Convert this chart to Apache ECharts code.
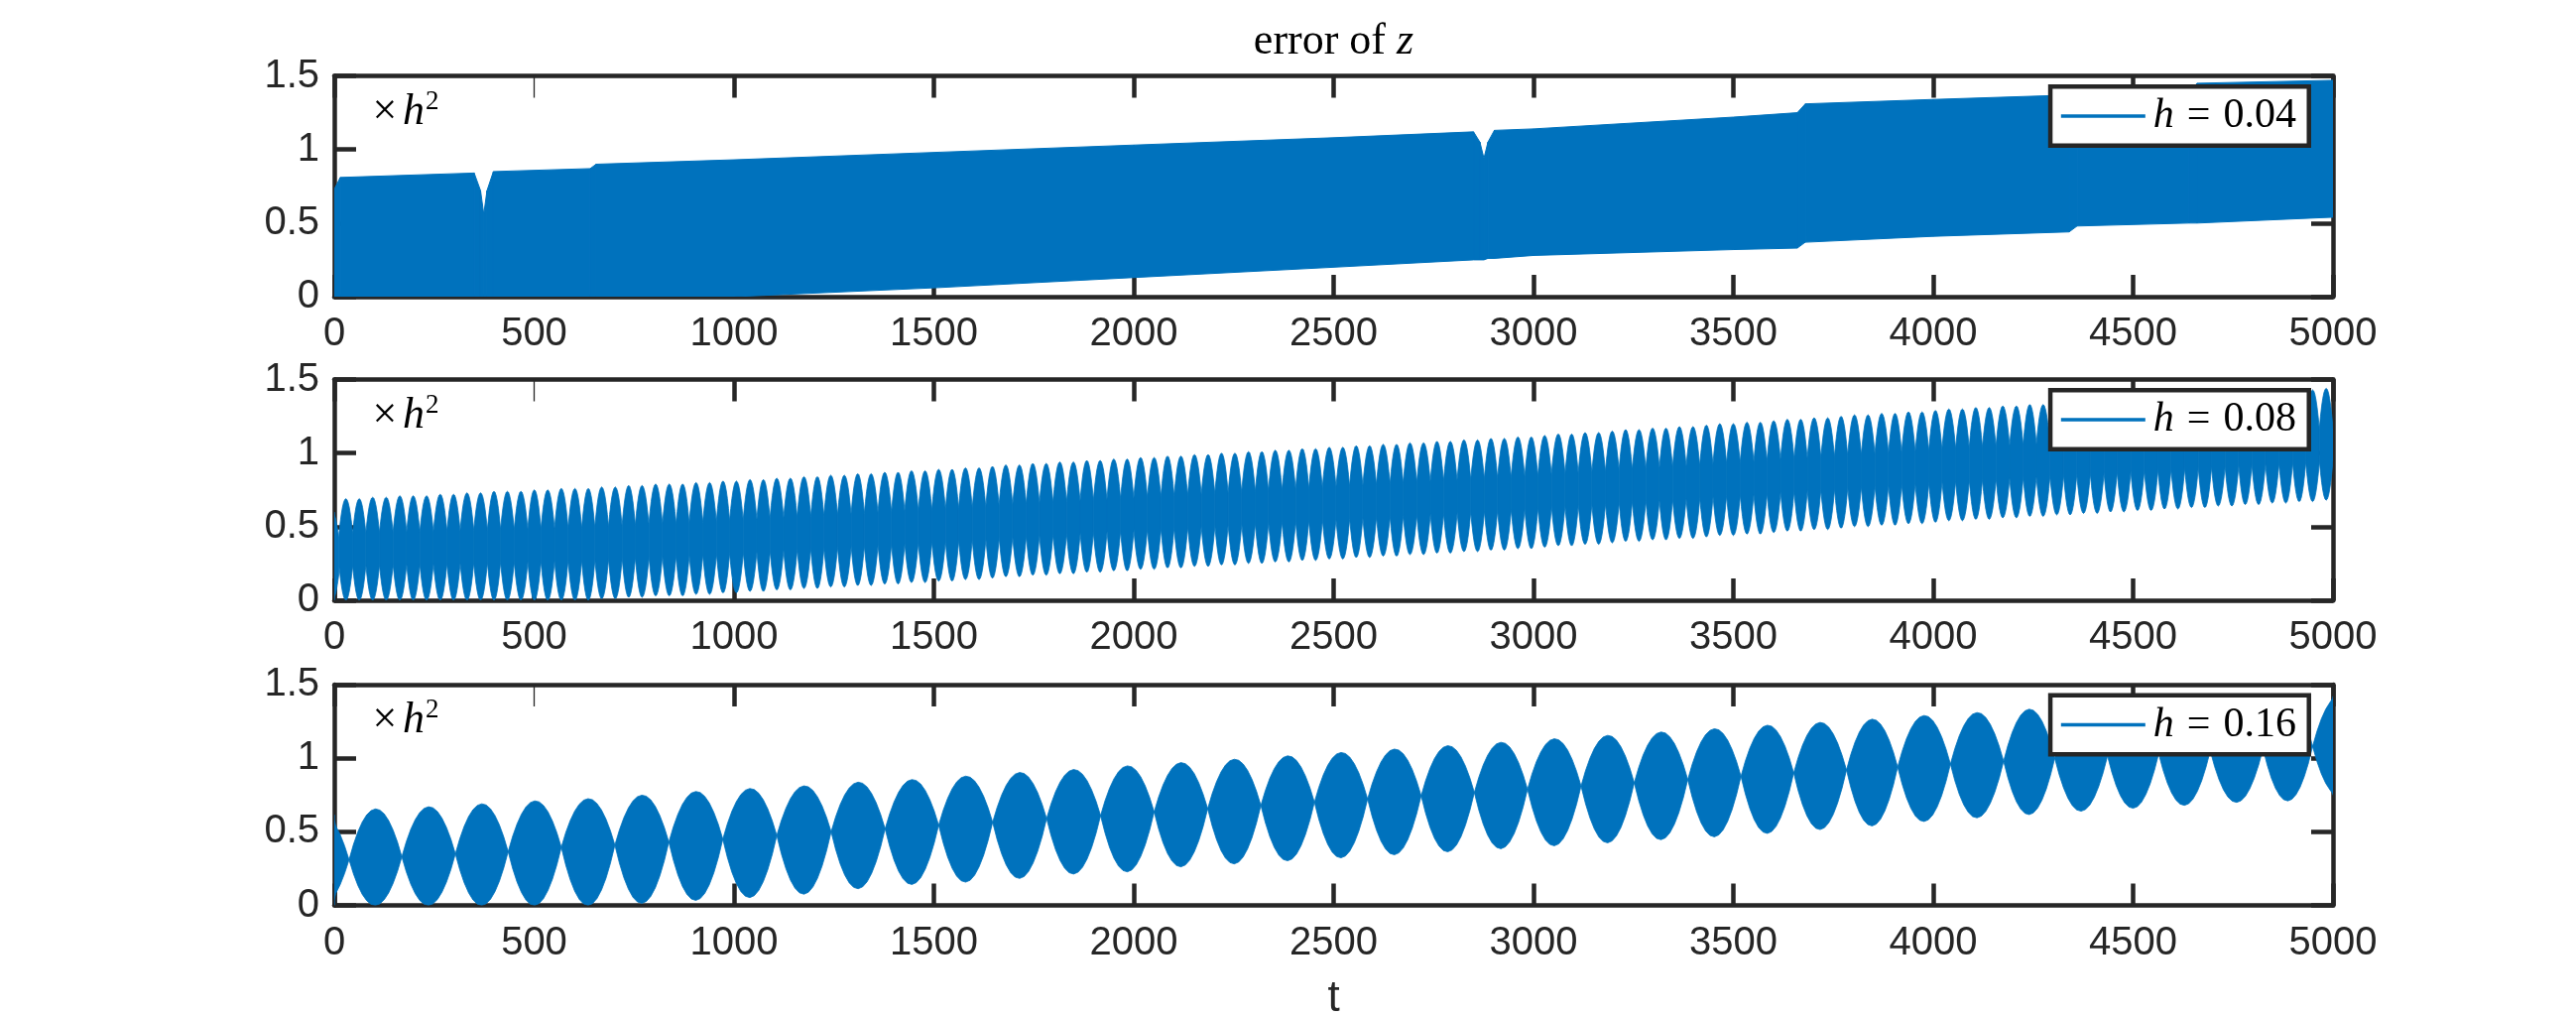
<!DOCTYPE html>
<html>
<head>
<meta charset="utf-8">
<script src="https://cdn.jsdelivr.net/npm/echarts@6/dist/echarts.min.js"></script>
<style>
html,body{margin:0;padding:0;background:#fff;}
#c{width:2597px;height:1025px;}
</style>
</head>
<body>
<div id="c"></div>
<script>
// ---------------- data ----------------
const titleText = 'error of ';
const titleVar = 'z';
const xLabelText = 't';
const legendNames = ['h = 0.04', 'h = 0.08', 'h = 0.16'];
const xMin = 0, xMax = 5000, xStep = 500;
const yMin = 0, yMax = 1.5, yStep = 0.5;
const topThickTicks = [0, 1000, 1500, 2000, 2500, 3000, 3500, 4000, 4500, 5000];
const topThinTicks = [500];

// panel 1 (h = 0.04): dense band, upper / lower envelope
const t1 = [0, 15, 350, 366, 374, 382, 398, 640, 655, 1000, 1500, 2000, 2500, 2850, 2866, 2876, 2886, 2902, 3000, 3500, 3660, 3680, 4000, 4340, 4360, 4640, 4660, 5000];
const up1 = [0.73, 0.81, 0.84, 0.72, 0.56, 0.72, 0.85, 0.87, 0.90, 0.93, 0.98, 1.03, 1.08, 1.12, 1.05, 0.94, 1.05, 1.13, 1.14, 1.22, 1.25, 1.31, 1.34, 1.37, 1.37, 1.39, 1.45, 1.47];
const lo1 = [0, 0, 0, 0, 0, 0, 0, 0, 0, 0, 0.06, 0.13, 0.20, 0.25, 0.25, 0.25, 0.26, 0.26, 0.28, 0.32, 0.33, 0.37, 0.41, 0.44, 0.48, 0.50, 0.50, 0.54];

// panel 2 (h = 0.08): beats – node times, beat maxima, beat minima
const nodes2 = [-22, 12, 46, 79, 113, 147, 181, 214, 248, 282, 315, 349, 383, 416, 450, 484, 517, 551, 585, 619, 652, 686, 720, 753, 787, 821, 855, 888, 922, 956, 989, 1023, 1057, 1090, 1124, 1158, 1192, 1225, 1259, 1293, 1326, 1360, 1394, 1427, 1461, 1495, 1529, 1562, 1596, 1630, 1663, 1697, 1731, 1764, 1798, 1832, 1866, 1899, 1933, 1967, 2000, 2034, 2068, 2101, 2135, 2169, 2203, 2236, 2270, 2304, 2337, 2371, 2405, 2438, 2472, 2506, 2540, 2573, 2607, 2641, 2674, 2708, 2742, 2775, 2809, 2843, 2877, 2910, 2944, 2978, 3011, 3045, 3079, 3112, 3146, 3180, 3214, 3247, 3281, 3315, 3348, 3382, 3416, 3449, 3483, 3517, 3551, 3584, 3618, 3652, 3685, 3719, 3753, 3786, 3820, 3854, 3888, 3921, 3955, 3989, 4022, 4056, 4090, 4123, 4157, 4191, 4225, 4258, 4292, 4326, 4359, 4393, 4427, 4460, 4494, 4528, 4562, 4595, 4629, 4663, 4696, 4730, 4764, 4797, 4831, 4865, 4899, 4932, 4966, 5000];
const tops2 = [0.60,
 0.69,0.69,0.70,0.70,0.71,0.71,0.71,0.72,0.72,0.73,
 0.73,0.74,0.74,0.74,0.75,0.75,0.76,0.76,0.76,0.77,
 0.77,0.78,0.78,0.79,0.79,0.79,0.80,0.80,0.81,0.81,
 0.82,0.82,0.83,0.83,0.84,0.84,0.85,0.85,0.86,0.86,
 0.87,0.87,0.88,0.88,0.89,0.89,0.90,0.90,0.91,0.92,
 0.92,0.93,0.93,0.94,0.94,0.95,0.95,0.96,0.96,0.97,
 0.97,0.98,0.98,0.99,0.99,1.00,1.00,1.01,1.01,1.02,
 1.02,1.03,1.03,1.04,1.04,1.05,1.05,1.06,1.06,1.07,
 1.07,1.08,1.08,1.09,1.09,1.10,1.10,1.11,1.11,1.12,
 1.13,1.13,1.14,1.14,1.15,1.16,1.16,1.17,1.17,1.18,
 1.18,1.19,1.20,1.20,1.21,1.21,1.22,1.23,1.23,1.24,
 1.24,1.25,1.26,1.26,1.27,1.27,1.28,1.28,1.29,1.30,
 1.30,1.31,1.31,1.32,1.32,1.33,1.33,1.34,1.34,1.35,
 1.35,1.36,1.36,1.37,1.37,1.38,1.38,1.39,1.39,1.40,
 1.40,1.41,1.41,1.42,1.42,1.43,1.43,1.44];
const bots2 = [0,
 0,0,0,0,0,0,0,0,0,0,
 0,0,0,0,0,0,0,0,0.00,0.01,
 0.01,0.02,0.02,0.03,0.03,0.03,0.04,0.04,0.05,0.05,
 0.06,0.06,0.07,0.07,0.08,0.08,0.09,0.09,0.10,0.10,
 0.11,0.11,0.12,0.12,0.13,0.13,0.14,0.14,0.15,0.16,
 0.16,0.17,0.17,0.18,0.18,0.19,0.19,0.20,0.20,0.21,
 0.21,0.22,0.22,0.23,0.23,0.24,0.24,0.25,0.25,0.26,
 0.26,0.27,0.27,0.28,0.28,0.29,0.29,0.30,0.30,0.31,
 0.31,0.32,0.32,0.33,0.33,0.34,0.34,0.35,0.35,0.36,
 0.37,0.37,0.38,0.38,0.39,0.40,0.40,0.41,0.41,0.42,
 0.42,0.43,0.44,0.44,0.45,0.45,0.46,0.47,0.47,0.48,
 0.48,0.49,0.50,0.50,0.51,0.51,0.52,0.52,0.53,0.54,
 0.54,0.55,0.55,0.56,0.56,0.57,0.57,0.58,0.58,0.59,
 0.59,0.60,0.60,0.61,0.61,0.62,0.62,0.63,0.63,0.64,
 0.64,0.65,0.65,0.66,0.66,0.67,0.67,0.68];
const core2 = 0.11; // half width of the band that stays filled between beats

// panel 3 (h = 0.16): lobes – node times, node values, lobe maxima, lobe minima
const nodes3 = [-97, 37, 169, 303, 435, 568, 702, 837, 972, 1107, 1243, 1378, 1512, 1647, 1782, 1917, 2051, 2185, 2318, 2452, 2585, 2719, 2852, 2985, 3119, 3252, 3386, 3519, 3651, 3783, 3911, 4043, 4176, 4304, 4436, 4564, 4693, 4825, 4949, 5080];
const nodeV3 = [0.29, 0.31, 0.33, 0.35, 0.365, 0.395, 0.41, 0.43, 0.45, 0.475, 0.50, 0.52, 0.545, 0.565, 0.59, 0.61, 0.635, 0.657, 0.679, 0.701, 0.723, 0.745, 0.767, 0.789, 0.811, 0.833, 0.855, 0.877, 0.90, 0.92, 0.94, 0.96, 0.98, 1.0, 1.015, 1.03, 1.05, 1.065, 1.08, 1.10];
const tops3 = [0.615, 0.655, 0.67, 0.69, 0.71, 0.725, 0.749, 0.774, 0.794, 0.812, 0.837, 0.855, 0.878, 0.903, 0.923, 0.948, 0.97, 0.993, 1.016, 1.039, 1.062, 1.085, 1.108, 1.132, 1.155, 1.178, 1.20, 1.224, 1.243, 1.265, 1.29, 1.31, 1.333, 1.355, 1.375, 1.395, 1.415, 1.43, 1.42];
const bots3 = [0, 0, 0, 0, 0, 0, 0.014, 0.034, 0.053, 0.076, 0.113, 0.142, 0.158, 0.183, 0.213, 0.228, 0.262, 0.282, 0.303, 0.323, 0.344, 0.364, 0.385, 0.405, 0.425, 0.446, 0.466, 0.489, 0.515, 0.54, 0.57, 0.595, 0.617, 0.64, 0.66, 0.68, 0.70, 0.71, 0.75];

// ---------------- layout / style ----------------
const BLUE = '#0072BD', AX = '#262626';
const GL = 337, GW = 2015, PH = 222.5;
const PT = [76.5, 382.5, 690];
const AXW = 4.5, TICKLEN = 22;
const SANS = "'Liberation Sans', Arial, Helvetica, sans-serif";
const SERIF = "'Liberation Serif', 'Times New Roman', serif";

const chart = echarts.init(document.getElementById('c'), null, {renderer: 'canvas'});

// ---------------- tables for the library ----------------
const band1 = [];
for (let i = 0; i < t1.length - 1; i++) {
  band1.push([t1[i], t1[i + 1], up1[i], up1[i + 1], lo1[i], lo1[i + 1]]);
}
const lens2 = [];
for (let i = 0; i < Math.min(nodes2.length - 1, tops2.length, bots2.length); i++) {
  const c = (tops2[i] + bots2[i]) / 2;
  lens2.push([nodes2[i], nodes2[i + 1], c + core2, c + core2, c - core2, c - core2, tops2[i], bots2[i]]);
}
const lens3 = [];
for (let i = 0; i < Math.min(nodes3.length - 1, tops3.length, bots3.length); i++) {
  lens3.push([nodes3[i], nodes3[i + 1], nodeV3[i], nodeV3[i + 1], nodeV3[i], nodeV3[i + 1], tops3[i], bots3[i]]);
}

function clampPt(p, cs) {
  return [Math.max(cs.x, Math.min(cs.x + cs.width, p[0])), Math.max(cs.y, Math.min(cs.y + cs.height, p[1]))];
}

function bandRender(params, api) {
  const cs = params.coordSys;
  const a = api.coord([api.value(0), api.value(2)]);
  const b = api.coord([api.value(1), api.value(3)]);
  const c = api.coord([api.value(1), api.value(5)]);
  const d = api.coord([api.value(0), api.value(4)]);
  return {type: 'polygon', shape: {points: [a, b, c, d].map(p => clampPt(p, cs))},
    style: {fill: BLUE, stroke: BLUE, lineWidth: 1}};
}

function lensRender(params, api) {
  const t0 = api.value(0), t1v = api.value(1);
  const u0 = api.value(2), u1 = api.value(3), l0 = api.value(4), l1 = api.value(5);
  const top = api.value(6), bot = api.value(7);
  const tm = (t0 + t1v) / 2;
  const A = api.coord([t0, u0]), B = api.coord([t1v, u1]), M = api.coord([tm, top]);
  const C = api.coord([t1v, l1]), D = api.coord([t0, l0]), N = api.coord([tm, bot]);
  const cs = params.coordSys;
  const pts = [];
  const STEPS = 12;
  function quad(P0, Pm, P2) {
    const cx = 2 * Pm[0] - (P0[0] + P2[0]) / 2, cy = 2 * Pm[1] - (P0[1] + P2[1]) / 2;
    for (let k = 0; k <= STEPS; k++) {
      const s = k / STEPS, a = (1 - s) * (1 - s), b = 2 * s * (1 - s), c = s * s;
      pts.push(clampPt([a * P0[0] + b * cx + c * P2[0], a * P0[1] + b * cy + c * P2[1]], cs));
    }
  }
  quad(A, M, B);
  quad(C, N, D);
  return {type: 'polygon', shape: {points: pts}, style: {fill: BLUE, stroke: BLUE, lineWidth: 0.8}};
}

const grids = PT.map(t => ({left: GL, top: t, width: GW, height: PH, containLabel: false, outerBoundsMode: 'none'}));

function axisCommon() {
  return {
    axisLine: {show: true, onZero: false, lineStyle: {color: AX, width: AXW}},
    axisTick: {show: true, inside: true, length: TICKLEN, lineStyle: {color: AX, width: AXW}},
    splitLine: {show: false}
  };
}
const xAxes = [], yAxes = [];
PT.forEach((t, g) => {
  xAxes.push(Object.assign(axisCommon(), {
    gridIndex: g, type: 'value', min: xMin, max: xMax, interval: xStep, position: 'bottom',
    axisLabel: {show: true, color: AX, fontSize: 40, fontFamily: SANS, margin: 18, formatter: v => String(v)}
  }));
  xAxes.push({
    gridIndex: g, type: 'value', min: xMin, max: xMax, interval: xStep, position: 'top',
    axisLine: {show: true, onZero: false, lineStyle: {color: AX, width: AXW}},
    axisTick: {show: true, inside: true, length: TICKLEN, customValues: topThickTicks, lineStyle: {color: AX, width: AXW}},
    axisLabel: {show: false}, splitLine: {show: false}
  });
  xAxes.push({
    gridIndex: g, type: 'value', min: xMin, max: xMax, interval: xStep, position: 'top',
    axisLine: {show: false, onZero: false},
    axisTick: {show: true, inside: true, length: TICKLEN, customValues: topThinTicks, lineStyle: {color: AX, width: 1.3}},
    axisLabel: {show: false}, splitLine: {show: false}
  });
  yAxes.push(Object.assign(axisCommon(), {
    gridIndex: g, type: 'value', min: yMin, max: yMax, interval: yStep, position: 'left',
    axisLabel: {show: true, color: AX, fontSize: 40, fontFamily: SANS, margin: 15}
  }));
  yAxes.push(Object.assign(axisCommon(), {
    gridIndex: g, type: 'value', min: yMin, max: yMax, interval: yStep, position: 'right',
    axisLabel: {show: false}
  }));
});

const legendRich = {
  i: {fontFamily: SERIF, fontStyle: 'italic', fontSize: 42, color: '#000', padding: [0, 0, 0, 3], lineHeight: 44},
  e: {fontFamily: SERIF, fontSize: 42, color: '#000', padding: [0, 13], lineHeight: 44},
  n: {fontFamily: SERIF, fontSize: 42, color: '#000', lineHeight: 44}
};
const legends = legendNames.map((nm, g) => ({
  show: true, top: PT[g] + 10.75, right: 269.25, orient: 'horizontal',
  data: [{name: nm, icon: 'rect'}],
  itemWidth: 85, itemHeight: 3.3, itemGap: 0,
  backgroundColor: '#fff', borderColor: AX, borderWidth: AXW, borderRadius: 0,
  padding: [8.75, 12.75, 8.75, 10.75],
  selectedMode: false,
  formatter: name => '{i|h}{e|=}{n|' + name.split('=')[1].trim() + '}',
  textStyle: {rich: legendRich, fontSize: 42, color: '#000'}
}));

const graphics = [];
graphics.push({
  type: 'text', x: GL + GW / 2, y: 42, silent: true,
  style: {text: '{r|' + titleText + '}{z|' + titleVar + '}', textAlign: 'center', textVerticalAlign: 'middle',
    rich: {r: {fontFamily: SERIF, fontSize: 44, fill: '#000', color: '#000'}, z: {fontFamily: SERIF, fontStyle: 'italic', fontSize: 44, fill: '#000', color: '#000'}}}
});
graphics.push({
  type: 'text', x: GL + GW / 2, y: 1007, silent: true,
  style: {text: xLabelText, font: '44px ' + SANS, fill: AX, textAlign: 'center', textVerticalAlign: 'middle'}
});
PT.forEach(t => {
  graphics.push({type: 'text', x: 375.5, y: t + 36.6, silent: true, z: 50,
    style: {text: '\u00d7', font: '44px ' + SERIF, fill: '#000', textAlign: 'left', textVerticalAlign: 'middle'}});
  graphics.push({type: 'text', x: 406, y: t + 36.6, silent: true, z: 50,
    style: {text: 'h', font: 'italic 44px ' + SERIF, fill: '#000', textAlign: 'left', textVerticalAlign: 'middle'}});
  graphics.push({type: 'text', x: 429, y: t + 26.4, silent: true, z: 50,
    style: {text: '2', font: '27px ' + SERIF, fill: '#000', textAlign: 'left', textVerticalAlign: 'middle'}});
});

const option = {
  animation: false,
  backgroundColor: '#fff',
  grid: grids,
  xAxis: xAxes,
  yAxis: yAxes,
  legend: legends,
  graphic: graphics,
  series: [
    {type: 'custom', name: legendNames[0], xAxisIndex: 0, yAxisIndex: 0, data: band1, renderItem: bandRender,
      encode: {x: [0, 1], y: [2, 3, 4, 5]}, itemStyle: {color: BLUE}, silent: true, clip: true},
    {type: 'custom', name: legendNames[1], xAxisIndex: 3, yAxisIndex: 2, data: lens2, renderItem: lensRender,
      encode: {x: [0, 1], y: [2, 3, 4, 5, 6, 7]}, itemStyle: {color: BLUE}, silent: true, clip: true},
    {type: 'custom', name: legendNames[2], xAxisIndex: 6, yAxisIndex: 4, data: lens3, renderItem: lensRender,
      encode: {x: [0, 1], y: [2, 3, 4, 5, 6, 7]}, itemStyle: {color: BLUE}, silent: true, clip: true}
  ]
};
chart.setOption(option);
</script>
</body>
</html>
